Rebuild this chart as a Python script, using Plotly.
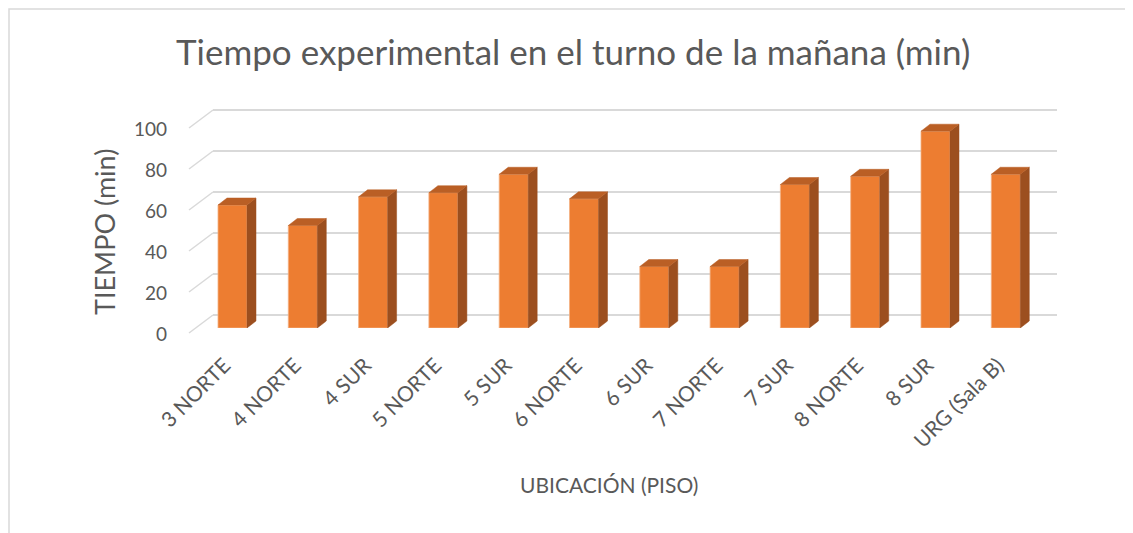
import plotly.graph_objects as go

# ---------------- data ----------------
categories = ["3 NORTE", "4 NORTE", "4 SUR", "5 NORTE", "5 SUR", "6 NORTE",
              "6 SUR", "7 NORTE", "7 SUR", "8 NORTE", "8 SUR", "URG (Sala B)"]
values = [60, 50, 64, 66, 75, 63, 30, 30, 70, 74, 96, 75]
y_ticks = [0, 20, 40, 60, 80, 100]
title_text = "Tiempo experimental en el turno de la mañana (min)"
y_title = "TIEMPO (min)"
x_title = "UBICACIÓN (PISO)"

# ---------------- geometry (pixels) ----------------
W, H = 1133, 533
OFF = 8  # page body margin offset
FONT = "Lato, 'Open Sans', sans-serif"
GREY = "#595959"
GRID = "#D9D9D9"

def fx(p):
    return (p - OFF) / W

def fy(p):
    return 1 - (p - OFF) / H

PX_PER_UNIT = 2.05          # vertical scale
CAT_PX = 70.3               # category width in px
bar_w = 29 / CAT_PX         # front face width (category units)
dx = 9 / CAT_PX             # depth offset in x
dy = 7 / PX_PER_UNIT        # depth offset in y

# back wall: value 0 at y=315 px, spans x 213..1057
wall_lo, wall_hi = -2, 102
wall_bottom = 315 + (0 - wall_lo) * PX_PER_UNIT
wall_top = 315 - wall_hi * PX_PER_UNIT

# bar plane: value 0 at y=328 px, first category centre at x=232.5
bar_lo, bar_hi = 0, 115
bar_bottom = 328
bar_top = 328 - bar_hi * PX_PER_UNIT
bx0 = 232.5 - CAT_PX / 2
bx1 = bx0 + CAT_PX * len(categories)

idx = list(range(len(categories)))

# polygons for 3D faces
top_x, top_y, side_x, side_y = [], [], [], []
for i, v in zip(idx, values):
    l, r = i - bar_w / 2, i + bar_w / 2
    top_x += [l, l + dx, r + dx, r, l, None]
    top_y += [v, v + dy, v + dy, v, v, None]
    side_x += [r, r + dx, r + dx, r, r, None]
    side_y += [0, dy, v + dy, v, 0, None]

fig = go.Figure()

# invisible trace to create back-wall subplot
fig.add_trace(go.Scatter(x=[0, 1], y=[0, 0], mode="markers",
                         marker=dict(opacity=0), xaxis="x", yaxis="y",
                         hoverinfo="skip", showlegend=False))

fig.add_trace(go.Scatter(x=side_x, y=side_y, fill="toself", mode="lines",
                         fillcolor="#9C4F1F", line=dict(color="#9C4F1F", width=0.5),
                         xaxis="x2", yaxis="y2", hoverinfo="skip", showlegend=False))
fig.add_trace(go.Scatter(x=top_x, y=top_y, fill="toself", mode="lines",
                         fillcolor="#BA5F25", line=dict(color="#BA5F25", width=0.5),
                         xaxis="x2", yaxis="y2", hoverinfo="skip", showlegend=False))
fig.add_trace(go.Bar(x=idx, y=values, width=bar_w,
                     marker=dict(color="#ED7D31", line=dict(color="#F4B183", width=0.8)),
                     xaxis="x2", yaxis="y2", showlegend=False))

# diagonal connectors on the left of the back wall
shapes = []
for t in y_ticks:
    yb = 315 - t * PX_PER_UNIT
    shapes.append(dict(type="line", xref="paper", yref="paper",
                       x0=fx(213), y0=fy(yb), x1=fx(189), y1=fy(yb + 18),
                       line=dict(color=GRID, width=1.5), layer="below"))
# chart border
shapes.append(dict(type="rect", xref="paper", yref="paper",
                   x0=fx(OFF + 1), y0=-0.02, x1=1.02, y1=fy(OFF + 1),
                   line=dict(color=GRID, width=1.5), layer="below"))

fig.update_layout(
    template="none",
    width=W, height=H,
    margin=dict(l=0, r=0, t=0, b=0, pad=0, autoexpand=False),
    paper_bgcolor="white", plot_bgcolor="rgba(0,0,0,0)",
    showlegend=False,
    shapes=shapes,
    xaxis=dict(domain=[fx(213), fx(1057)], range=[0, 1], anchor="y",
               showgrid=False, zeroline=False, showticklabels=False,
               showline=False, fixedrange=True, automargin=False),
    yaxis=dict(domain=[fy(wall_bottom), fy(wall_top)], range=[wall_lo, wall_hi],
               anchor="x", tickvals=y_ticks, showgrid=True, gridcolor=GRID,
               gridwidth=1.5, zeroline=False, showline=False, ticks="",
               tickfont=dict(family=FONT, size=19, color=GREY),
               ticklabelshift=19, ticklabelstandoff=45, fixedrange=True,
               automargin=False),
    xaxis2=dict(domain=[fx(bx0), fx(bx1)], range=[-0.5, len(categories) - 0.5],
                anchor="y2", tickvals=idx, ticktext=categories, tickangle=-45,
                showgrid=False, zeroline=False, showline=False, ticks="",
                tickfont=dict(family=FONT, size=21, color=GREY),
                ticklabelshift=-8, ticklabelstandoff=20, fixedrange=True,
                automargin=False),
    yaxis2=dict(domain=[fy(bar_bottom), fy(bar_top)], range=[bar_lo, bar_hi],
                anchor="x2", visible=False, fixedrange=True, automargin=False),
    annotations=[
        dict(text=title_text, xref="paper", yref="paper", x=fx(573), y=fy(51),
             xanchor="center", yanchor="middle", showarrow=False,
             font=dict(family=FONT, size=35, color=GREY)),
        dict(text=y_title, xref="paper", yref="paper", x=fx(104), y=fy(232),
             xanchor="center", yanchor="middle", textangle=-90, showarrow=False,
             font=dict(family=FONT, size=27, color=GREY)),
        dict(text=x_title, xref="paper", yref="paper", x=fx(609), y=fy(484),
             xanchor="center", yanchor="middle", showarrow=False,
             font=dict(family=FONT, size=21, color=GREY)),
    ],
)

fig.write_html("out.html")
